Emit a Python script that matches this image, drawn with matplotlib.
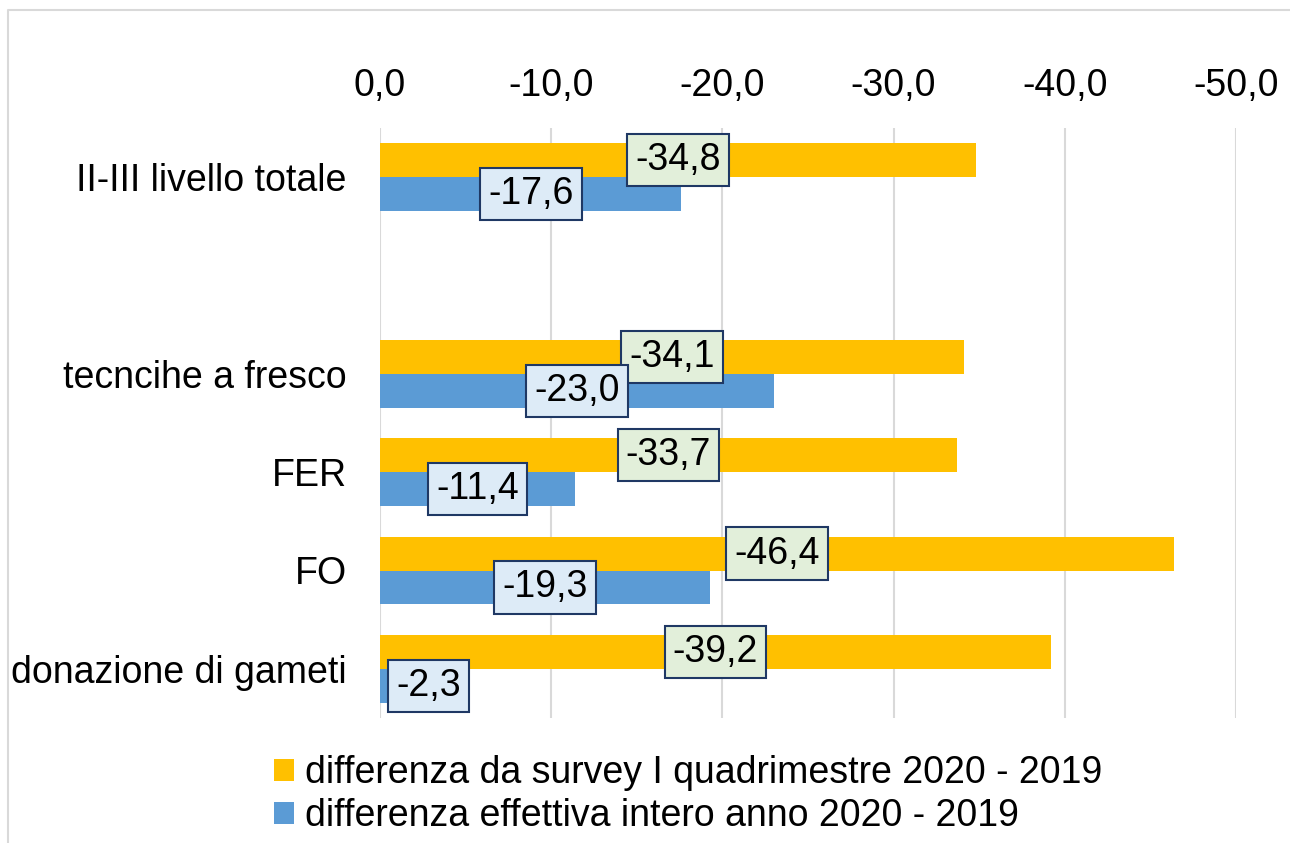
import matplotlib.pyplot as plt
from matplotlib.lines import Line2D
from matplotlib.ticker import FuncFormatter
import numpy as np

categories = ["II-III livello totale", "", "tecncihe a fresco", "FER", "FO", "donazione di gameti"]
survey = [-34.8, np.nan, -34.1, -33.7, -46.4, -39.2]
effettiva = [-17.6, np.nan, -23.0, -11.4, -19.3, -2.3]
series_names = ["differenza da survey I quadrimestre 2020 - 2019",
                "differenza effettiva intero anno 2020 - 2019"]

yellow = "#FFC000"
blue = "#5B9BD5"

plt.rcParams["font.family"] = ["Liberation Sans", "DejaVu Sans"]
plt.rcParams["font.size"] = 27

fig = plt.figure(figsize=(12.9, 8.43), dpi=100)
ax = fig.add_axes([380 / 1290, 1 - 718 / 843, (1236 - 380) / 1290, (718 - 128) / 843])

y = np.arange(len(categories))
h = 0.345
b1 = ax.barh(y - h / 2, survey, height=h, color=yellow, label=series_names[0], zorder=2)
b2 = ax.barh(y + h / 2, effettiva, height=h, color=blue, label=series_names[1], zorder=2)

ax.set_xlim(0, -50)
ax.set_ylim(len(categories) - 0.5, -0.5)
ax.set_xticks([0, -10, -20, -30, -40, -50])
ax.xaxis.set_major_formatter(FuncFormatter(lambda v, p: ("%.1f" % v).replace(".", ",").replace("-0,0", "0,0")))
ax.xaxis.tick_top()
ax.tick_params(axis="x", length=0, pad=17)
ax.tick_params(axis="y", length=0, pad=24)
ax.set_yticks(y)
ax.set_yticklabels(categories)
ax.grid(axis="x", color="#d9d9d9", linewidth=1.5, zorder=0)
for s in ax.spines.values():
    s.set_visible(False)


def put_label(x, yy, v, fill):
    box = dict(boxstyle="square,pad=0.22", facecolor=fill, edgecolor="#1F3864", linewidth=1.5)
    txt = ("%.1f" % v).replace(".", ",")
    if abs(v) < 5:
        ax.annotate(txt, (0, yy), xytext=(16, 0), textcoords="offset pixels",
                    ha="left", va="center", bbox=box, zorder=4)
    else:
        ax.text(v / 2, yy, txt, ha="center", va="center", bbox=box, zorder=4)


for i in range(len(categories)):
    if not np.isnan(survey[i]):
        put_label(survey[i] / 2, y[i] - h / 2, survey[i], "#E2EFDA")
    if not np.isnan(effettiva[i]):
        put_label(effettiva[i] / 2, y[i] + h / 2, effettiva[i], "#DDEBF7")

fig.legend(handles=[b1, b2], loc="upper left", bbox_to_anchor=(274 / 1290, 1 - 755 / 843),
           frameon=False, handlelength=0.52, handleheight=0.52, handletextpad=0.3,
           labelspacing=0.2, borderaxespad=0, borderpad=0)

fig.add_artist(Line2D([8 / 1290, 8 / 1290, 1.0], [0, 1 - 10 / 843, 1 - 10 / 843],
                      transform=fig.transFigure, color="#d9d9d9", linewidth=1.5))

fig.savefig("out.png", dpi=100)
